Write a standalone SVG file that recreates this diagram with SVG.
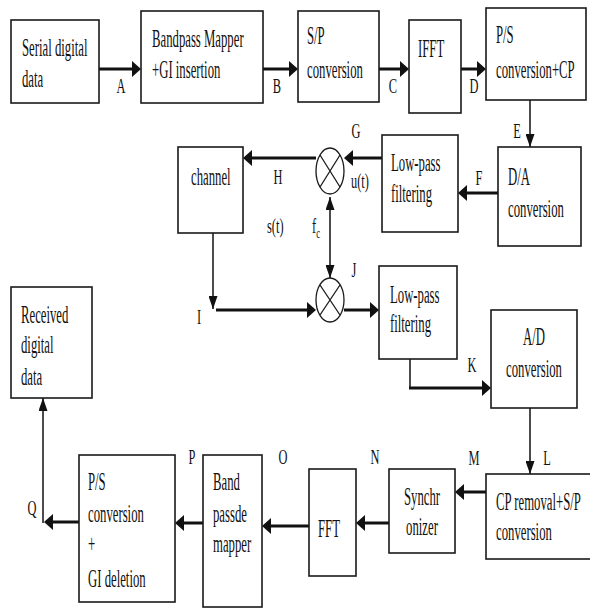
<svg xmlns="http://www.w3.org/2000/svg" width="590" height="610" viewBox="0 0 590 610">
<style>
.box{fill:#fff;stroke:#1a1a1a;stroke-width:1.6}
.mix{fill:none;stroke:#1a1a1a;stroke-width:1.3}
.t{font-family:"Liberation Serif","Times New Roman",serif;font-size:25px;fill:#111}
.lb{font-family:"Liberation Serif","Times New Roman",serif;font-size:20px;fill:#111}
.h{fill:none;stroke:#111;stroke-width:3}
.v{fill:none;stroke:#111;stroke-width:1.5}
</style>
<defs>
<marker id="ah" viewBox="0 0 9 16" markerWidth="9" markerHeight="16" refX="3" refY="8" orient="auto" markerUnits="userSpaceOnUse"><path d="M0,0 L9,8 L0,16 z" fill="#111"/></marker>
<marker id="av" viewBox="0 0 13 9" markerWidth="13" markerHeight="9" refX="13" refY="4.5" orient="auto-start-reverse" markerUnits="userSpaceOnUse"><path d="M0,0 L13,4.5 L0,9 z" fill="#111"/></marker>
</defs>
<rect width="590" height="610" fill="#fff"/>

<g id="connectors">
<path class="h" d="M99,69 H135" marker-end="url(#ah)"/>
<path class="h" d="M263,69 H292" marker-end="url(#ah)"/>
<path class="h" d="M379,69 H403" marker-end="url(#ah)"/>
<path class="h" d="M461,69 H480" marker-end="url(#ah)"/>
<path class="v" d="M530,100 V147" marker-end="url(#av)"/>
<path class="h" d="M498,193 H464" marker-end="url(#ah)"/>
<path class="h" d="M382,158 H350" marker-end="url(#ah)"/>
<path class="h" d="M316,158 H249" marker-end="url(#ah)"/>
<path class="v" d="M330,197 V278" marker-start="url(#av)" marker-end="url(#av)"/>
<path class="v" d="M213,233 V309" marker-end="url(#av)"/>
<path class="h" d="M216,310 H310" marker-end="url(#ah)"/>
<path class="h" d="M344,310 H373" marker-end="url(#ah)"/>
<path class="v" d="M410,359 V388"/>
<path class="h" d="M409,388 H485" marker-end="url(#ah)"/>
<path class="v" d="M530,408 V474" marker-end="url(#av)"/>
<path class="h" d="M486,492 H461" marker-end="url(#ah)"/>
<path class="h" d="M389,523 H362" marker-end="url(#ah)"/>
<path class="h" d="M309,526 H268" marker-end="url(#ah)"/>
<path class="h" d="M203,523 H181" marker-end="url(#ah)"/>
<path class="h" d="M79,522 H50" marker-end="url(#ah)"/>
<path class="v" d="M43,523 V398" marker-end="url(#av)"/>
</g>

<g id="labels">
<text class="lb" text-anchor="middle" transform="translate(121 93) scale(0.62 1)">A</text>
<text class="lb" text-anchor="middle" transform="translate(277 93) scale(0.62 1)">B</text>
<text class="lb" text-anchor="middle" transform="translate(393 93) scale(0.62 1)">C</text>
<text class="lb" text-anchor="middle" transform="translate(474 93) scale(0.62 1)">D</text>
<text class="lb" text-anchor="middle" transform="translate(517 138) scale(0.62 1)">E</text>
<text class="lb" text-anchor="middle" transform="translate(479 185) scale(0.62 1)">F</text>
<text class="lb" text-anchor="middle" transform="translate(356 138) scale(0.62 1)">G</text>
<text class="lb" transform="translate(351 188) scale(0.62 1)">u(t)</text>
<text class="lb" text-anchor="middle" transform="translate(278 184) scale(0.62 1)">H</text>
<text class="lb" transform="translate(267 233) scale(0.62 1)">s(t)</text>
<text class="lb" transform="translate(312 233) scale(0.62 1)">f<tspan font-size="14" dy="5">c</tspan></text>
<text class="lb" text-anchor="middle" transform="translate(354 277) scale(0.62 1)">J</text>
<text class="lb" text-anchor="middle" transform="translate(199 324) scale(0.62 1)">I</text>
<text class="lb" text-anchor="middle" transform="translate(472 372) scale(0.62 1)">K</text>
<text class="lb" text-anchor="middle" transform="translate(547 465) scale(0.62 1)">L</text>
<text class="lb" text-anchor="middle" transform="translate(474 465) scale(0.62 1)">M</text>
<text class="lb" text-anchor="middle" transform="translate(375 464) scale(0.62 1)">N</text>
<text class="lb" text-anchor="middle" transform="translate(283 464) scale(0.62 1)">O</text>
<text class="lb" text-anchor="middle" transform="translate(192 464) scale(0.62 1)">P</text>
<text class="lb" text-anchor="middle" transform="translate(32 515) scale(0.62 1)">Q</text>
</g>

<g id="n-serial">
<rect class="box" x="11" y="20" width="88" height="83"/>
<text class="t" transform="translate(22 56) scale(0.51 1)">Serial digital<tspan x="0" dy="31">data</tspan></text>
</g>
<g id="n-mapper">
<rect class="box" x="141" y="11" width="122" height="92"/>
<text class="t" transform="translate(152 47) scale(0.51 1)">Bandpass Mapper<tspan x="0" dy="31">+GI insertion</tspan></text>
</g>
<g id="n-sp">
<rect class="box" x="298" y="11" width="81" height="91"/>
<text class="t" transform="translate(307 44) scale(0.51 1)">S/P<tspan x="0" dy="34">conversion</tspan></text>
</g>
<g id="n-ifft">
<rect class="box" x="409" y="20" width="52" height="93"/>
<text class="t" transform="translate(418 57) scale(0.51 1)">IFFT</text>
</g>
<g id="n-ps-cp">
<rect class="box" x="486" y="8" width="100" height="92"/>
<text class="t" transform="translate(496 43) scale(0.51 1)">P/S<tspan x="0" dy="35">conversion+CP</tspan></text>
</g>
<g id="n-da">
<rect class="box" x="498" y="147" width="83" height="99"/>
<text class="t" transform="translate(508 185) scale(0.51 1)">D/A<tspan x="0" dy="32">conversion</tspan></text>
</g>
<g id="n-lpf1">
<rect class="box" x="382" y="135" width="76" height="97"/>
<text class="t" transform="translate(391 171) scale(0.51 1)">Low-pass<tspan x="0" dy="31">filtering</tspan></text>
</g>
<g id="n-mix1">
<ellipse class="mix" cx="330" cy="171" rx="14" ry="23"/>
<path class="mix" d="M320,155 L340,187 M340,155 L320,187"/>
</g>
<g id="n-channel">
<rect class="box" x="178" y="147" width="65" height="86"/>
<text class="t" transform="translate(191 185) scale(0.51 1)">channel</text>
</g>
<g id="n-mix2">
<ellipse class="mix" cx="330" cy="300" rx="14" ry="22"/>
<path class="mix" d="M320,285 L340,315 M340,285 L320,315"/>
</g>
<g id="n-lpf2">
<rect class="box" x="379" y="266" width="78" height="93"/>
<text class="t" transform="translate(390 303) scale(0.51 1)">Low-pass<tspan x="0" dy="29">filtering</tspan></text>
</g>
<g id="n-ad">
<rect class="box" x="491" y="310" width="86" height="98"/>
<text class="t" text-anchor="middle" transform="translate(534 345) scale(0.51 1)">A/D<tspan x="0" dy="32">conversion</tspan></text>
</g>
<g id="n-cp">
<rect class="box" x="486" y="474" width="106" height="85"/>
<text class="t" transform="translate(496 510) scale(0.51 1)">CP removal+S/P<tspan x="0" dy="30">conversion</tspan></text>
</g>
<g id="n-sync">
<rect class="box" x="389" y="469" width="66" height="84"/>
<text class="t" transform="translate(404 505) scale(0.51 1)">Synchr<tspan x="4" dy="30">onizer</tspan></text>
</g>
<g id="n-fft">
<rect class="box" x="309" y="469" width="47" height="107"/>
<text class="t" transform="translate(318 537) scale(0.51 1)">FFT</text>
</g>
<g id="n-demap">
<rect class="box" x="203" y="455" width="59" height="152"/>
<text class="t" transform="translate(213 490) scale(0.51 1)">Band<tspan x="0" dy="32">passde</tspan><tspan x="0" dy="30">mapper</tspan></text>
</g>
<g id="n-ps-gi">
<rect class="box" x="79" y="455" width="96" height="147"/>
<text class="t" transform="translate(88 490) scale(0.51 1)">P/S<tspan x="0" dy="32">conversion</tspan><tspan x="0" dy="30">+</tspan><tspan x="0" dy="35">GI deletion</tspan></text>
</g>
<g id="n-received">
<rect class="box" x="11" y="287" width="81" height="111"/>
<text class="t" transform="translate(21 323) scale(0.51 1)">Received<tspan x="0" dy="30">digital</tspan><tspan x="0" dy="32">data</tspan></text>
</g>
</svg>
